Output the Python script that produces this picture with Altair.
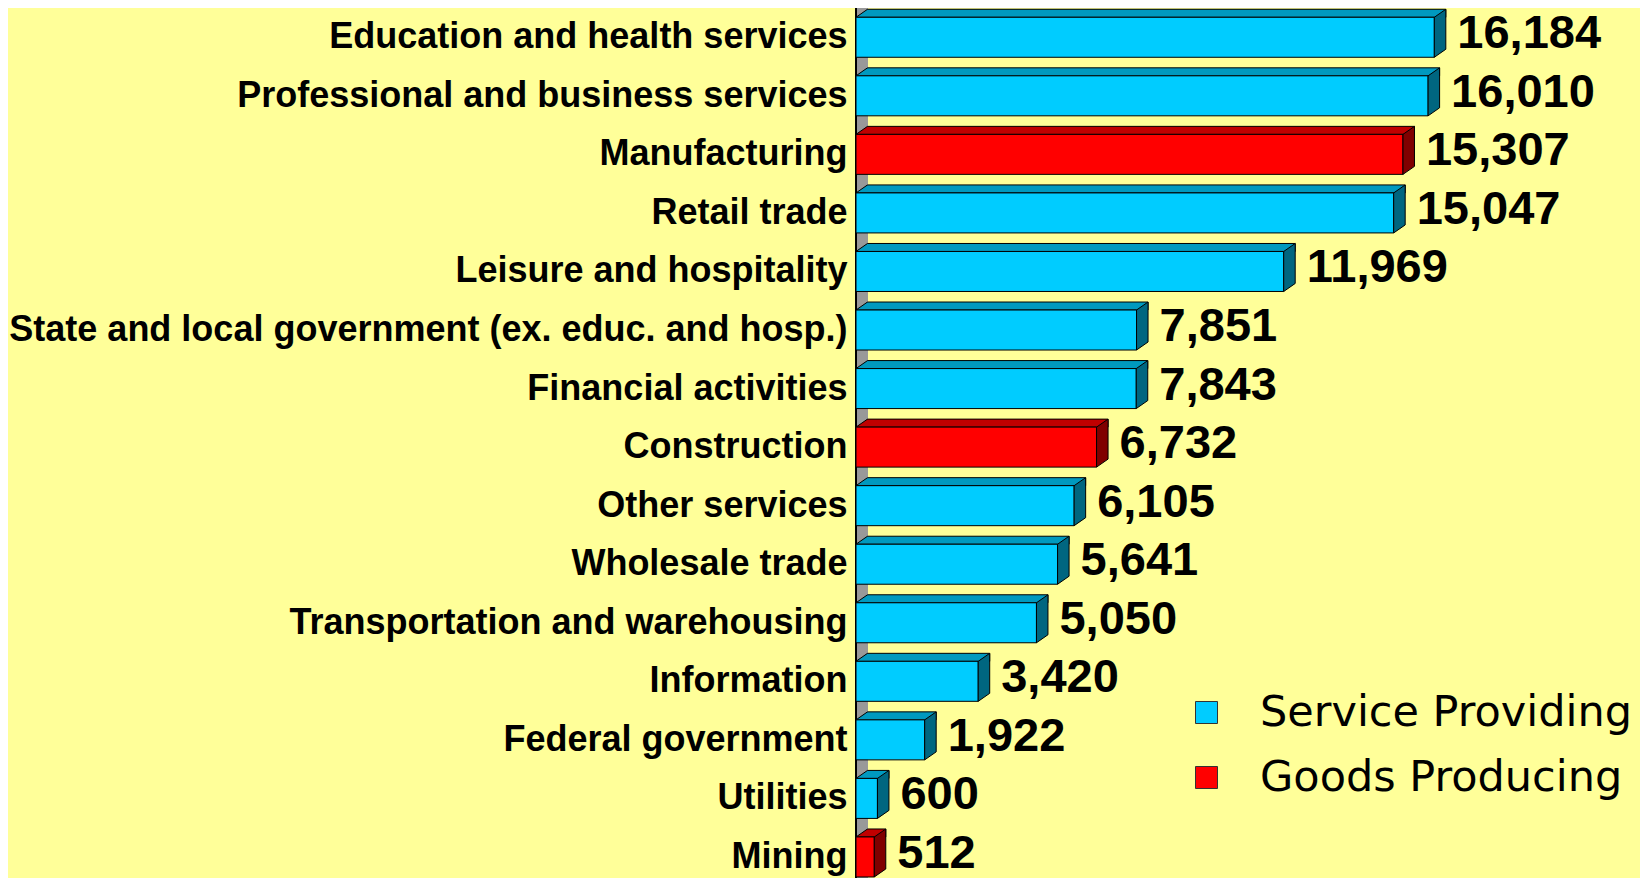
import altair as alt
import pandas as pd

categories = [
    "Education and health services",
    "Professional and business services",
    "Manufacturing",
    "Retail trade",
    "Leisure and hospitality",
    "State and local government (ex. educ. and hosp.)",
    "Financial activities",
    "Construction",
    "Other services",
    "Wholesale trade",
    "Transportation and warehousing",
    "Information",
    "Federal government",
    "Utilities",
    "Mining",
]
values = [16184, 16010, 15307, 15047, 11969, 7851, 7843, 6732, 6105, 5641, 5050, 3420, 1922, 600, 512]
goods = ["Manufacturing", "Construction", "Mining"]
types = ["Service Providing", "Goods Producing"]

df = pd.DataFrame({
    "category": categories,
    "value": values,
    "type": ["Goods Producing" if c in goods else "Service Providing" for c in categories],
})

BG = "#FFFF99"
CYAN, CYAN_TOP, CYAN_SIDE = "#00CCFF", "#0099BF", "#006680"
RED, RED_TOP, RED_SIDE = "#FF0000", "#C00000", "#800000"
WALL = "#999999"
DX, DY = 11.5, 8
W, H = 784, 870

is_goods = alt.datum.type == "Goods Producing"

yenc = alt.Y(
    "category:N",
    sort=categories,
    scale=alt.Scale(paddingInner=0.3168, paddingOuter=0.088, align=0.9),
    axis=alt.Axis(
        title=None, domain=False, ticks=False, grid=False,
        labelFont="Liberation Sans", labelFontWeight="bold", labelFontSize=36,
        labelColor="black", labelPadding=9, labelLimit=1000,
    ),
)
xscale = alt.Scale(domain=[0, 21940], nice=False, zero=True)
xenc = alt.X("value:Q", scale=xscale, axis=None)

base = alt.Chart(df)

wall = base.mark_rule(color=WALL, strokeWidth=DX, xOffset=DX / 2, opacity=1).encode(
    x=alt.datum(0, scale=xscale, axis=None)
)

top_face = base.mark_bar(stroke="black", strokeWidth=1, height=DY, yOffset=-(20 + DY / 2),
                         x2Offset=DX, opacity=1).encode(
    x=alt.X("zero:Q", scale=xscale, axis=None),
    x2="value:Q",
    y=yenc,
    fill=alt.condition(is_goods, alt.value(RED_TOP), alt.value(CYAN_TOP)),
).transform_calculate(zero="0")

corner = base.mark_point(
    shape="M-1,-0.9565 L1.087,-0.9565 L1,-0.6957 L-1,0.6957 Z",
    size=DX * DX, filled=True, fill=WALL, strokeWidth=0, opacity=1,
    xOffset=DX / 2, yOffset=-(20 + DY / 2),
).encode(x=alt.datum(0, scale=xscale, axis=None), y=yenc)

diag = base.mark_point(
    shape="M-1,0.6957 L1,-0.6957",
    size=DX * DX, filled=False, stroke="black", strokeWidth=1, opacity=1,
    xOffset=DX / 2, yOffset=-(20 + DY / 2),
).encode(x=alt.datum(0, scale=xscale, axis=None), y=yenc)

axis_line = base.mark_rule(color="black", strokeWidth=1.2, opacity=1).encode(
    x=alt.datum(0, scale=xscale, axis=None)
)

front = base.mark_bar(stroke="black", strokeWidth=1, opacity=1).encode(
    x=alt.X("zero:Q", scale=xscale, axis=None),
    x2="value:Q",
    y=yenc,
    color=alt.Color(
        "type:N",
        scale=alt.Scale(domain=types, range=[CYAN, RED]),
        legend=alt.Legend(
            title=None, orient="none", legendX=329, legendY=683, padding=0,
            symbolType="square", symbolSize=484, symbolStrokeColor="#333333",
            symbolStrokeWidth=1, symbolOpacity=1,
            labelFont="DejaVu Sans", labelFontSize=43, labelColor="black",
            labelOffset=32, rowPadding=21, labelLimit=1000,
        ),
    ),
).transform_calculate(zero="0")

side = base.mark_point(
    shape="M-0.2396,-0.6667 L0.2396,-1 L0.2396,0.6667 L-0.2396,1 Z",
    size=48 * 48, filled=True, stroke="black", strokeWidth=1, opacity=1,
    xOffset=DX / 2, yOffset=-DY / 2,
).encode(
    x=xenc, y=yenc,
    fill=alt.condition(is_goods, alt.value(RED_SIDE), alt.value(CYAN_SIDE)),
)

labels = base.mark_text(
    align="left", baseline="middle", dx=23, dy=-3,
    font="Liberation Sans", fontWeight="bold", fontSize=47, color="black",
).encode(x=xenc, y=yenc, text=alt.Text("value:Q", format=","))

chart = alt.layer(wall, top_face, corner, diag, axis_line, front, side, labels).properties(
    width=W, height=H,
    background=BG,
    padding={"left": 848, "top": 0, "right": 0, "bottom": 0},
    autosize=alt.AutoSizeParams(type="none"),
).configure_view(stroke=None)

chart.save("out.html", embed_options={"renderer": "svg", "actions": False})
